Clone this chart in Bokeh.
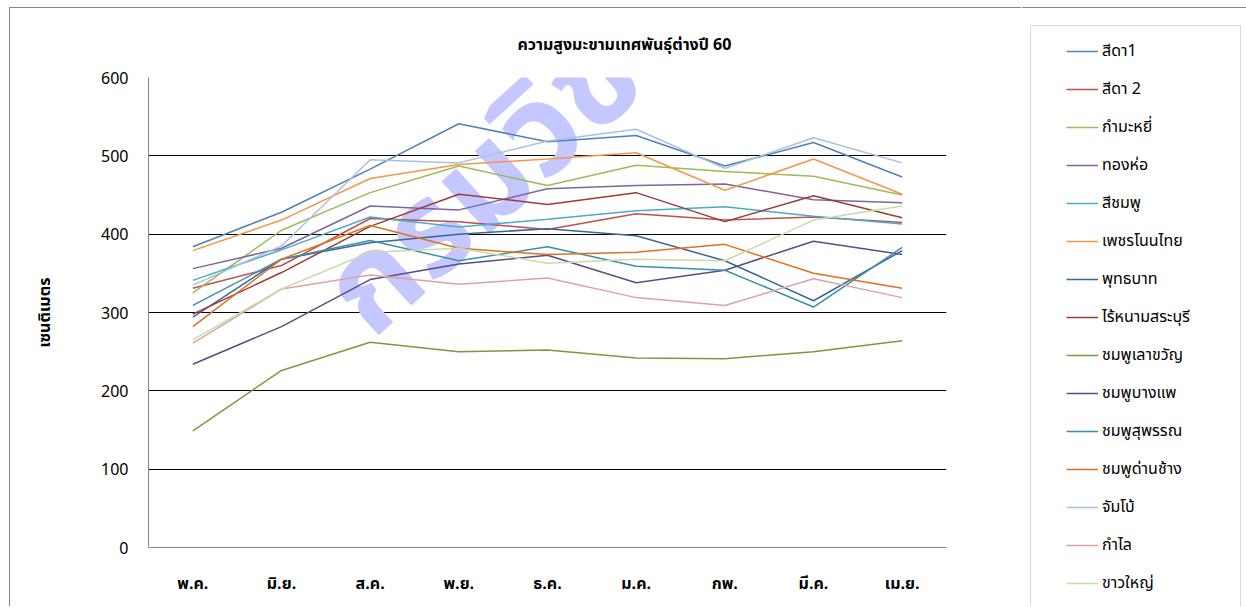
from bokeh.plotting import figure
from bokeh.models import FactorRange, Range1d, FixedTicker, Legend, LegendItem, Label, BoxAnnotation
from bokeh.embed import file_html
from bokeh.resources import INLINE

months = ["พ.ค.", "มิ.ย.", "ส.ค.", "พ.ย.", "ธ.ค.", "ม.ค.", "กพ.", "มี.ค.", "เม.ย."]

sida1 = [384, 428, 483, 541, 518, 526, 487, 517, 473]
sida2 = [331, 360, 420, 416, 406, 426, 418, 422, 415]
kammayi = [325, 405, 453, 487, 462, 488, 480, 474, 450]
thongho = [356, 382, 436, 431, 458, 462, 464, 444, 440]
sichomphu = [341, 380, 422, 409, 419, 430, 435, 423, 413]
phetnonthai = [379, 418, 471, 489, 496, 504, 456, 496, 451]
phutthabat = [294, 368, 389, 400, 407, 398, 366, 315, 379]
rainam = [298, 351, 410, 451, 438, 453, 416, 449, 421]
laokhwan = [149, 226, 262, 250, 252, 242, 241, 250, 264]
bangphae = [234, 282, 342, 362, 373, 338, 354, 391, 374]
suphan = [309, 368, 392, 366, 384, 359, 354, 307, 383]
danchang = [282, 368, 411, 382, 374, 377, 387, 350, 331]
jumbo = [335, 385, 495, 491, 519, 534, 484, 523, 491]
kamlai = [261, 330, 348, 336, 344, 319, 309, 343, 319]
khaoyai = [265, 330, 377, 382, 363, 368, 366, 418, 436]

series_names = ["สีดา1", "สีดา 2", "กำมะหยี่", "ทองห่อ", "สีชมพู", "เพชรโนนไทย", "พุทธบาท",
                "ไร้หนามสระบุรี", "ชมพูเลาขวัญ", "ชมพูบางแพ", "ชมพูสุพรรณ", "ชมพูด่านช้าง",
                "จัมโบ้", "กำไล", "ขาวใหญ่"]
series_values = [sida1, sida2, kammayi, thongho, sichomphu, phetnonthai, phutthabat, rainam,
                 laokhwan, bangphae, suphan, danchang, jumbo, kamlai, khaoyai]
series_colors = ["#4F81BD", "#C0504D", "#9BBB59", "#8064A2", "#4BACC6", "#F79646", "#3A669C",
                 "#9E3B38", "#7A9A3F", "#5E4A85", "#3A90A8", "#E07020", "#A9C1E0", "#DCA3A2", "#CADBA9"]
y_ticks = [0, 100, 200, 300, 400, 500, 600]

FONT = "Tahoma, 'Noto Sans Thai', 'Noto Sans', sans-serif"
H = 599
W1, W2 = 1012, 224

p = figure(width=W1, height=H, x_range=FactorRange(factors=months), y_range=Range1d(0, 600),
           output_backend="svg", toolbar_location=None,
           min_border_left=138, min_border_right=76, min_border_top=69, min_border_bottom=60,
           styles={"margin-left": "9px", "margin-top": "7px",
                   "border-left": "1px solid #868686", "border-top": "1px solid #868686"})
p.outline_line_color = None
p.background_fill_color = "white"
p.border_fill_color = "white"

p.title.text = "ความสูงมะขามเทศพันธุ์ต่างปี  60"
p.title.align = "left"
p.title.offset = 369
p.title.standoff = 42
p.title.text_font = FONT
p.title.text_font_size = "16px"
p.title.text_font_style = "bold"
p.title.text_color = "#000000"

p.xgrid.grid_line_color = None
p.ygrid.grid_line_color = "#000000"
p.ygrid.grid_line_width = 1
p.yaxis.ticker = FixedTicker(ticks=y_ticks)

for ax in (p.xaxis[0], p.yaxis[0]):
    ax.axis_line_color = "#868686"
    ax.major_tick_line_color = None
    ax.minor_tick_line_color = None
    ax.major_label_text_font = FONT
    ax.major_label_text_font_size = "16px"
    ax.major_label_text_color = "#000000"
p.yaxis.major_label_standoff = 14
p.xaxis.major_label_standoff = 18
p.xaxis.major_label_text_font_style = "bold"
p.yaxis.axis_label = "เซนติเมตร"
p.yaxis.axis_label_standoff = 41
p.yaxis.axis_label_text_font = FONT
p.yaxis.axis_label_text_font_size = "16px"
p.yaxis.axis_label_text_font_style = "bold"
p.yaxis.axis_label_text_color = "#000000"

p.add_layout(Label(x=197, y=236, x_units="screen", y_units="screen", text="กรมวิชาการเกษตร", angle=0.74,
                   text_align="left", text_baseline="alphabetic", text_font_size="130px",
                   text_font_style="bold", text_font=FONT, text_color="#C5C8FF", level="underlay"))

for name, vals, col in zip(series_names, series_values, series_colors):
    p.line(x=months, y=vals, line_color=col, line_width=1.5)

# legend panel, a separate root placed to the right of the chart
q = figure(width=W2, height=H, x_range=Range1d(0, 1), y_range=Range1d(0, 1),
           output_backend="svg", toolbar_location=None, x_axis_type=None, y_axis_type=None,
           min_border=0,
           styles={"position": "absolute", "left": "1022px", "top": "7px",
                   "border-top": "1px solid #868686"})
q.outline_line_color = None
q.xgrid.grid_line_color = None
q.ygrid.grid_line_color = None
items = []
for name, vals, col in zip(series_names, series_values, series_colors):
    # same series drawn on an out-of-view range: only its legend sample shows
    r = q.line(x=list(range(len(months))), y=vals, line_color=col, line_width=1.5)
    items.append(LegendItem(label=name, renderers=[r]))
q.add_layout(BoxAnnotation(left=8, right=218, top=582, bottom=-10,
                           left_units="screen", right_units="screen", top_units="screen", bottom_units="screen",
                           fill_alpha=0, line_color="#868686", line_width=1))
legend = Legend(items=items, location=(44, 12), padding=0, spacing=14, margin=0,
                glyph_width=32, glyph_height=24, label_height=24, label_standoff=4,
                border_line_color=None, background_fill_alpha=0,
                label_text_font_size="16px", label_text_color="#000000",
                label_text_font=FONT)
q.add_layout(legend, "center")

open("out.html", "w").write(file_html((p, q), INLINE))
